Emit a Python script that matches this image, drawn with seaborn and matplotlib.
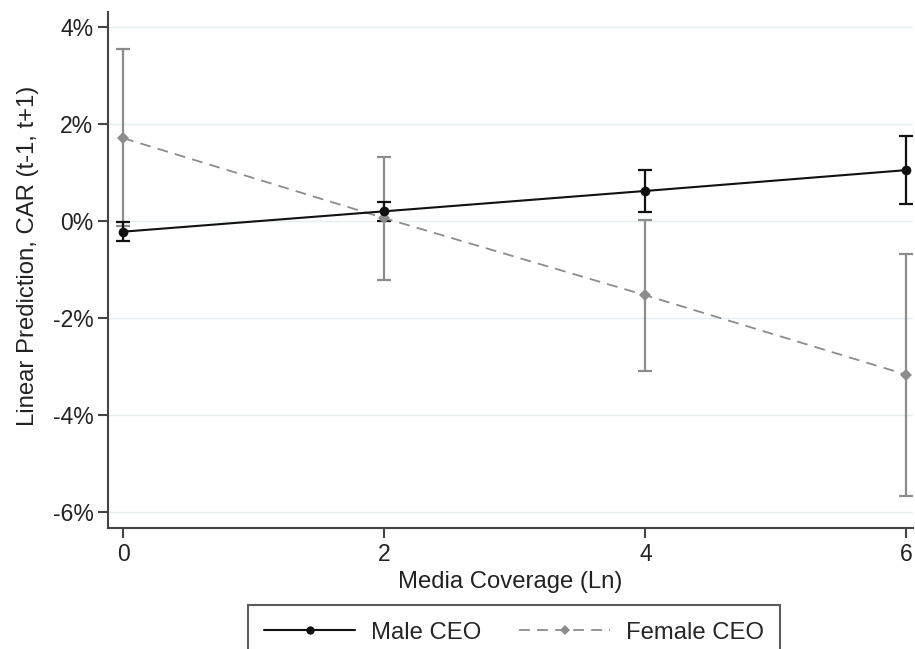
import numpy as np
import pandas as pd
import matplotlib
matplotlib.use("Agg")
import matplotlib.pyplot as plt
import seaborn as sns
from matplotlib.ticker import FuncFormatter
from matplotlib.lines import Line2D

# Data (values in percent)
media = [0, 2, 4, 6]
male_pred = [-0.22, 0.20, 0.62, 1.05]
male_lo = [-0.41, 0.01, 0.19, 0.35]
male_hi = [-0.03, 0.39, 1.06, 1.76]
female_pred = [1.71, 0.06, -1.53, -3.17]
female_lo = [-0.10, -1.21, -3.10, -5.66]
female_hi = [3.54, 1.32, 0.02, -0.68]
x_ticks = [0, 2, 4, 6]
y_ticks = [-6, -4, -2, 0, 2, 4]

sns.set_theme(style="white")
plt.rcParams['font.family'] = ['Liberation Sans', 'DejaVu Sans']

FS = 16.5
LFS = 17.2

df = pd.DataFrame({
    "x": media + media,
    "y": male_pred + female_pred,
    "g": ["Male CEO"] * 4 + ["Female CEO"] * 4,
})

fig = plt.figure(figsize=(9.15, 6.49), dpi=100)
ax = fig.add_axes([108 / 915, 1 - 528 / 649, (913 - 108) / 915, (528 - 12) / 649])

for yt in y_ticks:
    ax.axhline(yt, color="#e6eef0", lw=1.0, zorder=0)

male_c = "#111111"
fem_c = "#8c8c8c"

ax.errorbar(media, male_pred,
            yerr=[np.array(male_pred) - np.array(male_lo), np.array(male_hi) - np.array(male_pred)],
            fmt="none", ecolor=male_c, elinewidth=1.6, capsize=5, capthick=1.6, zorder=3)
ax.errorbar(media, female_pred,
            yerr=[np.array(female_pred) - np.array(female_lo), np.array(female_hi) - np.array(female_pred)],
            fmt="none", ecolor=fem_c, elinewidth=1.6, capsize=5, capthick=1.6, zorder=2)

sns.lineplot(data=df[df.g == "Male CEO"], x="x", y="y", ax=ax, color=male_c, lw=1.5,
             marker="o", markersize=7, markeredgewidth=0, zorder=4, legend=False)
sns.lineplot(data=df[df.g == "Female CEO"], x="x", y="y", ax=ax, color=fem_c, lw=1.3,
             marker="D", markersize=6, markeredgewidth=0, zorder=3, legend=False,
             linestyle=(0, (6, 4)))

ax.set_xlim(-0.115, 6.05)
ax.set_ylim(-6.33, 4.31)
ax.set_xticks(x_ticks)
ax.set_yticks(y_ticks)
ax.yaxis.set_major_formatter(FuncFormatter(lambda v, p: f"{int(v)}%"))
ax.set_xlabel("Media Coverage (Ln)", fontsize=LFS, color="#222222", labelpad=4)
ax.set_ylabel("Linear Prediction, CAR (t-1, t+1)", fontsize=LFS, color="#222222")
ax.yaxis.set_label_coords(-0.086, 0.527)
ax.tick_params(axis="both", labelsize=FS, colors="#444444", length=7.5, width=1.5,
               direction="out", labelcolor="#222222", bottom=True, left=True)
ax.tick_params(axis="x", pad=3)
ax.tick_params(axis="y", pad=3)
for s in ["top", "right"]:
    ax.spines[s].set_visible(False)
for s in ["left", "bottom"]:
    ax.spines[s].set_color("#444444")
    ax.spines[s].set_linewidth(1.5)

handles = [
    Line2D([0], [0], color=male_c, lw=1.5, marker="o", markersize=6, markeredgewidth=0),
    Line2D([0], [0], color=fem_c, lw=1.3, linestyle=(0, (6, 4)), marker="D", markersize=5, markeredgewidth=0),
]
leg = fig.legend(handles, ["Male CEO", "Female CEO"], loc="upper center",
                 bbox_to_anchor=(514 / 915, 1 - 605 / 649), ncol=2, fontsize=LFS,
                 frameon=True, fancybox=False, handlelength=3.8, handletextpad=0.65,
                 columnspacing=1.6, borderpad=0.7, borderaxespad=0, numpoints=1)
leg.get_frame().set_edgecolor("#333333")
leg.get_frame().set_linewidth(1.5)

fig.savefig("out.png", dpi=100)
